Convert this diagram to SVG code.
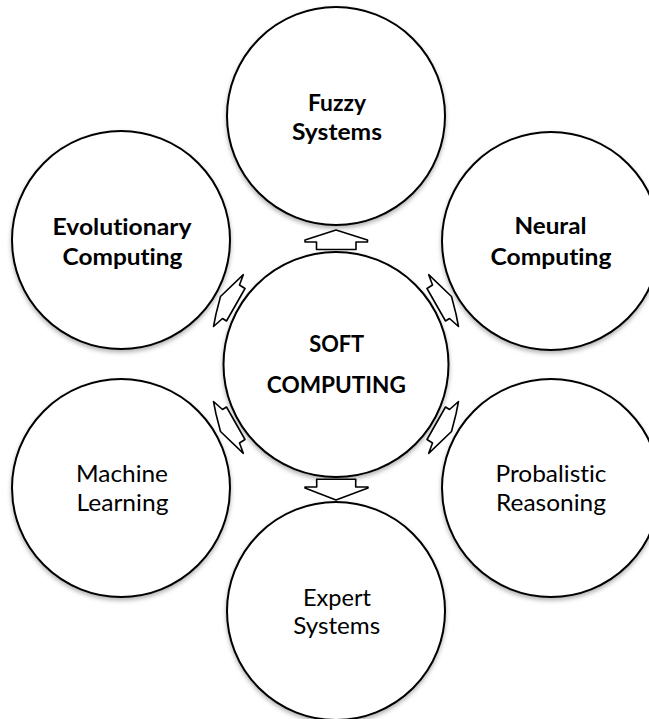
<svg xmlns="http://www.w3.org/2000/svg" width="649" height="719" viewBox="0 0 649 719">
<defs>
<style>
.node circle{fill:#fff;stroke:#000;stroke-width:2;filter:url(#sh)}
.t{font-family:Lato,"Open Sans","Liberation Sans",sans-serif;font-size:23px;fill:#000;text-anchor:middle;font-variant-ligatures:none;font-feature-settings:"liga" 0,"clig" 0,"dlig" 0}
.b{font-weight:bold}
.arr{fill:#fff;stroke:#000;stroke-width:1.6;stroke-linejoin:round}
</style>
<filter id="sh" x="-10%" y="-10%" width="120%" height="125%">
<feDropShadow dx="0" dy="2.5" stdDeviation="2" flood-color="#000" flood-opacity="0.3"/>
</filter>
<polygon id="diag" points="243.3,274.7 239.5,285 245,288.5 226.5,321 222.5,318.5 213.5,326.5 216,314 220.5,296.5"/>
</defs>
<rect width="649" height="719" fill="#fff"/>
<g id="fuzzy" class="node"><circle cx="336" cy="116" r="109"/>
<text class="t b" x="337" y="111" textLength="58" lengthAdjust="spacingAndGlyphs">Fuzzy</text>
<text class="t b" x="337" y="139.5" textLength="90" lengthAdjust="spacingAndGlyphs">Systems</text></g>
<g id="evolutionary" class="node"><circle cx="121" cy="240" r="109"/>
<text class="t b" x="122" y="234.5" textLength="139" lengthAdjust="spacingAndGlyphs">Evolutionary</text>
<text class="t b" x="122.5" y="264.5" textLength="120" lengthAdjust="spacingAndGlyphs">Computing</text></g>
<g id="neural" class="node"><circle cx="551" cy="241" r="109"/>
<text class="t b" x="550.5" y="233.5" textLength="72" lengthAdjust="spacingAndGlyphs">Neural</text>
<text class="t b" x="551" y="264.5" textLength="121" lengthAdjust="spacingAndGlyphs">Computing</text></g>
<g id="machine" class="node"><circle cx="121" cy="488" r="109"/>
<text class="t" x="122" y="482.3" textLength="92" lengthAdjust="spacingAndGlyphs">Machine</text>
<text class="t" x="122.5" y="511" textLength="92" lengthAdjust="spacingAndGlyphs">Learning</text></g>
<g id="probalistic" class="node"><circle cx="551" cy="488" r="109"/>
<text class="t" x="551" y="482" textLength="111" lengthAdjust="spacingAndGlyphs">Probalistic</text>
<text class="t" x="551" y="511" textLength="110" lengthAdjust="spacingAndGlyphs">Reasoning</text></g>
<g id="expert" class="node"><circle cx="336" cy="611" r="109"/>
<text class="t" x="337" y="606" textLength="68" lengthAdjust="spacingAndGlyphs">Expert</text>
<text class="t" x="336.7" y="634.3" textLength="87" lengthAdjust="spacingAndGlyphs">Systems</text></g>
<g id="soft" class="node"><circle cx="336" cy="364.5" r="112.5"/>
<text class="t b" x="336.7" y="352.3" textLength="55" lengthAdjust="spacingAndGlyphs">SOFT</text>
<text class="t b" x="336.3" y="392.7" textLength="139" lengthAdjust="spacingAndGlyphs">COMPUTING</text></g>
<g id="connectors">
<polygon class="arr" points="336,230 367.5,240 367.5,242 356,242 356,249.5 316.5,249.5 316.5,242 305,242 305,240"/>
<polygon class="arr" points="336,500 368,488 368,487 355.7,487 355.7,479.3 316.7,479.3 316.7,487 305,487 305,488"/>
<use href="#diag" class="arr"/>
<use href="#diag" class="arr" transform="translate(672,0) scale(-1,1)"/>
<use href="#diag" class="arr" transform="translate(0,728) scale(1,-1)"/>
<use href="#diag" class="arr" transform="rotate(180,336,364)"/>
</g>
</svg>
